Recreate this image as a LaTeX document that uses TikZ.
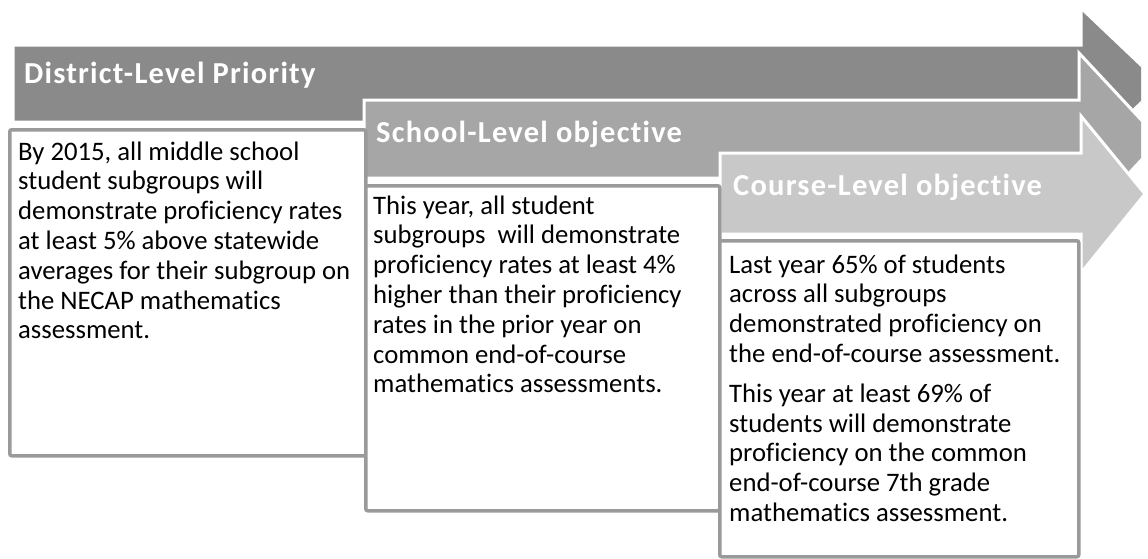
\documentclass[tikz,border=0pt]{standalone}
\usepackage{fontspec}
\setmainfont{Carlito}[Ligatures={NoCommon}]
\begin{document}
\begin{tikzpicture}[x=1pt,y=-1pt,
  arrowone/.style={fill=arrowA,draw=white,line width=3pt,line join=miter},
  arrowtwo/.style={fill=arrowB,draw=white,line width=3pt,line join=miter},
  arrowthree/.style={fill=arrowC,draw=white,line width=3pt,line join=miter},
  textbox/.style={draw=boxgray,line width=3.5pt,fill=white,rounded corners=2pt},
  header/.style={anchor=base west,inner sep=0pt,text=white,font=\fontsize{30.5}{36}\selectfont\bfseries\addfontfeature{LetterSpace=4}},
  bodytext/.style={anchor=base west,inner sep=0pt,text=black,font=\fontsize{26.7}{29.8}\selectfont}]
\definecolor{arrowA}{HTML}{8A8A8A}
\definecolor{arrowB}{HTML}{A6A6A6}
\definecolor{arrowC}{HTML}{C8C8C8}
\definecolor{boxgray}{HTML}{9A9A9A}
\useasboundingbox (0,0) rectangle (1148,558);
\begin{scope}
\clip (0,0) rectangle (1141,558);
\draw[arrowone] (13,45) -- (1081,45) -- (1081,8) -- (1161,84) -- (1081,160) -- (1081,122) -- (13,122) -- cycle;
\draw[arrowtwo] (364,100) -- (1079,100) -- (1079,53) -- (1160,140) -- (1079,227) -- (1079,178) -- (364,178) -- cycle;
\end{scope}
\draw[arrowthree] (720,153) -- (1081,153) -- (1081,116) -- (1145,194) -- (1081,273) -- (1081,234) -- (720,234) -- cycle;
\node[textbox,minimum width=356pt,minimum height=326pt,anchor=north west,inner sep=0pt] (b1) at (8,128) {};
\node[textbox,minimum width=354pt,minimum height=325pt,anchor=north west,inner sep=0pt] (b2) at (364,184) {};
\node[textbox,minimum width=359pt,minimum height=316pt,anchor=north west,inner sep=0pt] (b3) at (718,239) {};
\node[header] (h1) at (24,83) {District-Level Priority};
\node[header] (h2) at (376,142) {School-Level objective};
\node[header] (h3) at (733,195) {Course-Level objective};
\node[bodytext] (t1) at (18,160) {\parbox[t]{345pt}{By 2015, all middle school\\
student subgroups will\\
demonstrate proficiency rates\\
at least 5\% above statewide\\
averages for their subgroup on\\
the NECAP mathematics\\
assessment.}};
\node[bodytext] (t2) at (373,214) {\parbox[t]{345pt}{This year, all student\\
subgroups\ \ will demonstrate\\
proficiency rates at least 4\%\\
higher than their proficiency\\
rates in the prior year on\\
common end-of-course\\
mathematics assessments.}};
\node[bodytext] (t3) at (729,273) {\parbox[t]{350pt}{Last year 65\% of students\\
across all subgroups\\
demonstrated proficiency on\\
the end-of-course assessment.\\[10pt]
This year at least 69\% of\\
students will demonstrate\\
proficiency on the common\\
end-of-course 7th grade\\
mathematics assessment.}};
\end{tikzpicture}
\end{document}
